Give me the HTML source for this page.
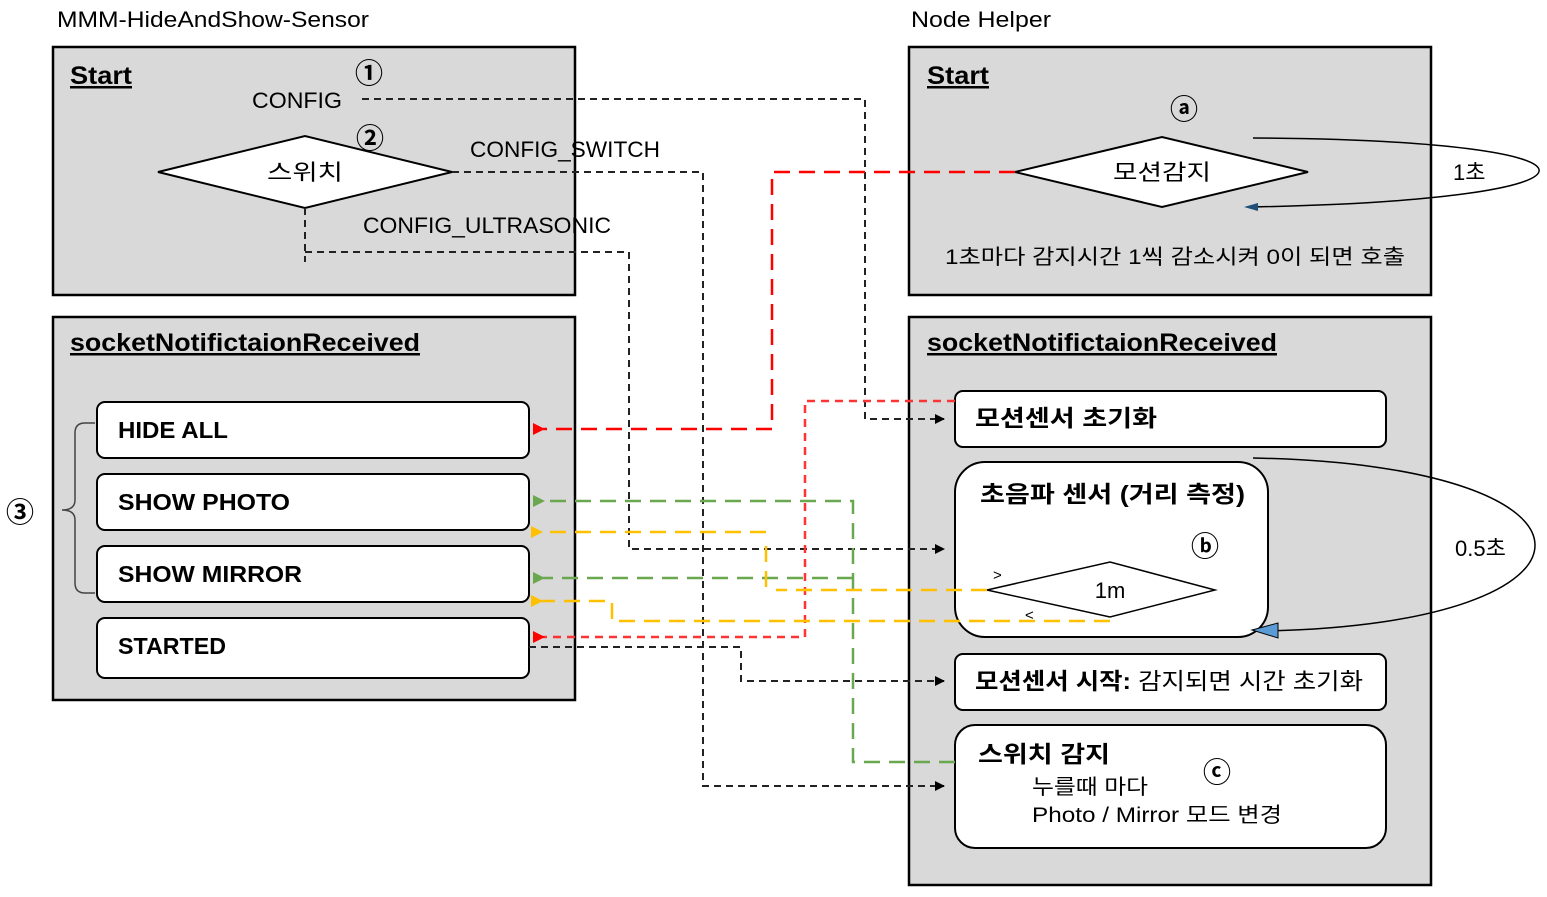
<!DOCTYPE html>
<html><head><meta charset="utf-8"><style>
body{margin:0;background:#fff}
svg text{font-family:"Liberation Sans","Noto Sans CJK KR",sans-serif;fill:#000}
.h{font-weight:bold;font-size:25px;text-decoration:underline}
.b{font-weight:bold;font-size:23px}
.n{font-size:22px}
</style></head><body>
<svg width="1547" height="892" viewBox="0 0 1547 892" xmlns="http://www.w3.org/2000/svg">
<defs>
<marker id="ak" markerWidth="10" markerHeight="10" refX="9" refY="5" orient="auto" markerUnits="userSpaceOnUse"><path d="M0,0 L10,5 L0,10z" fill="#000"/></marker>
<marker id="ar" markerWidth="12" markerHeight="12" refX="2" refY="6" orient="auto" markerUnits="userSpaceOnUse"><path d="M12,0 L0,6 L12,12z" fill="#f00"/></marker>
<marker id="ag" markerWidth="12" markerHeight="12" refX="2" refY="6" orient="auto" markerUnits="userSpaceOnUse"><path d="M12,0 L0,6 L12,12z" fill="#6aa84f"/></marker>
<marker id="ay" markerWidth="12" markerHeight="12" refX="2" refY="6" orient="auto" markerUnits="userSpaceOnUse"><path d="M12,0 L0,6 L12,12z" fill="#ffc000"/></marker>
</defs>
<g>
<text x="57" y="27" class="n" textLength="312" lengthAdjust="spacingAndGlyphs">MMM-HideAndShow-Sensor</text>
<text x="911" y="27" class="n" textLength="140" lengthAdjust="spacingAndGlyphs">Node Helper</text>
</g>
<g fill="#d9d9d9" stroke="#000" stroke-width="2.5">
<rect x="53" y="47" width="522" height="248"/>
<rect x="53" y="317" width="522" height="383"/>
<rect x="909" y="47" width="522" height="248"/>
<rect x="909" y="317" width="522" height="568"/>
</g>
<text x="70" y="84" class="h" textLength="62" lengthAdjust="spacingAndGlyphs">Start</text>
<text x="70" y="351" class="h" textLength="350" lengthAdjust="spacingAndGlyphs">socketNotifictaionReceived</text>
<text x="927" y="84" class="h" textLength="62" lengthAdjust="spacingAndGlyphs">Start</text>
<text x="927" y="351" class="h" textLength="350" lengthAdjust="spacingAndGlyphs">socketNotifictaionReceived</text>
<g fill="#fff" stroke="#000" stroke-width="2">
<polygon points="158,172 305,136 452,172 305,208"/>
<polygon points="1015,172 1162,137 1308,172 1162,207"/>
<rect x="97" y="402" width="432" height="56" rx="8"/>
<rect x="97" y="474" width="432" height="56" rx="8"/>
<rect x="97" y="546" width="432" height="56" rx="8"/>
<rect x="97" y="618" width="432" height="60" rx="8"/>
<rect x="955" y="391" width="431" height="56" rx="8"/>
<rect x="955" y="462" width="313" height="175" rx="30"/>
<rect x="955" y="654" width="431" height="56" rx="8"/>
<rect x="955" y="725" width="431" height="123" rx="20"/>
<polygon points="987,590 1110,562 1215,590 1110,617" stroke-width="1.5"/>
</g>
<text x="305" y="180" class="n" text-anchor="middle" textLength="76" lengthAdjust="spacingAndGlyphs">스위치</text>
<text x="1162" y="180" class="n" text-anchor="middle" textLength="98" lengthAdjust="spacingAndGlyphs">모션감지</text>
<text x="1110" y="598" class="n" text-anchor="middle">1m</text>
<text x="993" y="580" font-size="15">&gt;</text>
<text x="1025" y="620" font-size="15">&lt;</text>
<text x="252" y="108" class="n" textLength="90" lengthAdjust="spacingAndGlyphs">CONFIG</text>
<text x="470" y="157" class="n" textLength="190" lengthAdjust="spacingAndGlyphs">CONFIG_SWITCH</text>
<text x="363" y="233" class="n" textLength="248" lengthAdjust="spacingAndGlyphs">CONFIG_ULTRASONIC</text>
<text x="945" y="264" font-size="21" textLength="460" lengthAdjust="spacingAndGlyphs">1초마다 감지시간 1씩 감소시켜 0이 되면 호출</text>
<text x="1453" y="180" class="n">1초</text>
<text x="1455" y="556" class="n">0.5초</text>
<text x="118" y="438" class="b" textLength="110" lengthAdjust="spacingAndGlyphs">HIDE ALL</text>
<text x="118" y="510" class="b" textLength="172" lengthAdjust="spacingAndGlyphs">SHOW PHOTO</text>
<text x="118" y="582" class="b" textLength="184" lengthAdjust="spacingAndGlyphs">SHOW MIRROR</text>
<text x="118" y="654" class="b" textLength="108" lengthAdjust="spacingAndGlyphs">STARTED</text>
<text x="975" y="426" class="b" textLength="182" lengthAdjust="spacingAndGlyphs">모션센서 초기화</text>
<text x="980" y="502" class="b" textLength="265" lengthAdjust="spacingAndGlyphs">초음파 센서 (거리 측정)</text>
<text x="975" y="689" class="b" textLength="388" lengthAdjust="spacingAndGlyphs">모션센서 시작: <tspan font-weight="normal">감지되면 시간 초기화</tspan></text>
<text x="978" y="762" class="b" textLength="132" lengthAdjust="spacingAndGlyphs">스위치 감지</text>
<text x="1032" y="794" font-size="21" textLength="116" lengthAdjust="spacingAndGlyphs">누를때 마다</text>
<text x="1032" y="822" font-size="21" textLength="250" lengthAdjust="spacingAndGlyphs">Photo / Mirror 모드 변경</text>
<g font-size="28" font-weight="bold" text-anchor="middle">
<text x="369" y="83">①</text><text x="370" y="148">②</text><text x="1184" y="119">ⓐ</text>
<text x="1205" y="556">ⓑ</text><text x="1217" y="782">ⓒ</text><text x="20" y="522">③</text>
</g>
<path d="M95,423 H85 Q75,423 75,433 V500 Q75,510 62,510 Q75,510 75,520 V583 Q75,593 85,593 H95" fill="none" stroke="#444" stroke-width="1.5"/>
<g fill="none" stroke="#222" stroke-width="2" stroke-dasharray="7,5">
<path d="M362,99 H865 V419 H944" marker-end="url(#ak)"/>
<path d="M452,172 H703 V786 H944" marker-end="url(#ak)"/>
<path d="M305,208 V262 M305,252 H629 V549 H944" marker-end="url(#ak)"/>
<path d="M529,647 H741 V681 H944" marker-end="url(#ak)"/>
</g>
<g fill="none" stroke-width="2.5">
<path d="M1015,172 H772 V429 H543" stroke="#f00" stroke-dasharray="16,9" marker-end="url(#ar)"/>
<path d="M955,401 H805 V637 H543" stroke="#f33" stroke-dasharray="8,6" marker-end="url(#ar)"/>
<path d="M955,762 H853 V501 H543" stroke="#6aa84f" stroke-dasharray="16,9" marker-end="url(#ag)"/>
<path d="M853,578 H543" stroke="#6aa84f" stroke-dasharray="16,9" marker-end="url(#ag)"/>
<path d="M987,590 H776 M766,587 V545 M766,532 H541" stroke="#ffc000" stroke-dasharray="16,9" marker-end="url(#ay)"/>
<path d="M1110,621 H612 V601 H541" stroke="#ffc000" stroke-dasharray="16,9" marker-end="url(#ay)"/>
</g>
<g fill="none" stroke="#000" stroke-width="1.5">
<path d="M1253,138 C1635,140 1635,200 1250,207"/>
<path d="M1253,458 C1630,465 1625,625 1262,631"/>
</g>
<path d="M1244,207 L1258,203 L1258,211z" fill="#1f4e79"/>
<path d="M1252,630 L1278,623 L1278,638z" fill="#5b9bd5" stroke="#000" stroke-width="1"/>
</svg>
</body></html>
